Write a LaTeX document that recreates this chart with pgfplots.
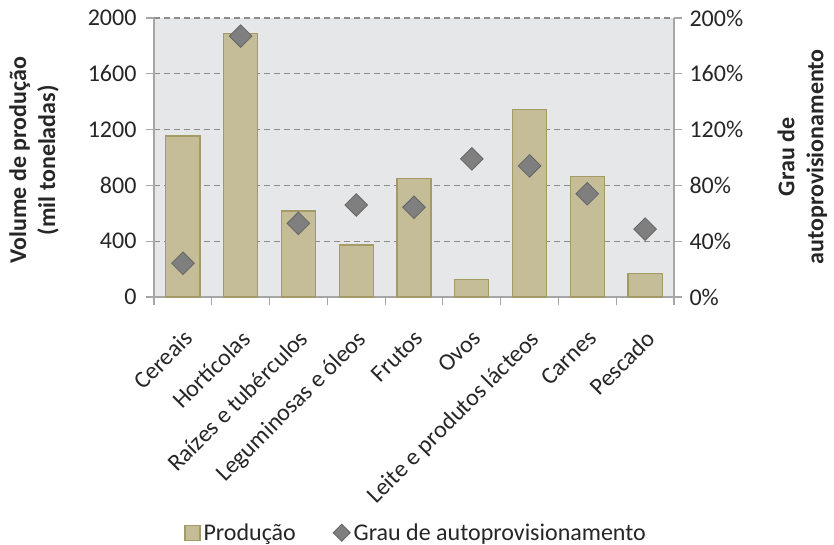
\documentclass[border=0pt]{standalone}
\usepackage{fontspec}
\setmainfont{Carlito}
\usepackage{pgfplots}
\pgfplotsset{compat=1.18}

\definecolor{barfill}{HTML}{C4BD97}
\definecolor{baredge}{HTML}{A39A66}
\definecolor{plotbg}{HTML}{E6E7E8}
\definecolor{dia}{HTML}{7F7F7F}
\definecolor{diaedge}{HTML}{666666}
\definecolor{axisgray}{HTML}{A6A6A6}
\definecolor{gridgray}{HTML}{8C8C8C}
\definecolor{txt}{HTML}{262626}

\pgfplotsset{
  common/.style={
    scale only axis,
    width=520bp, height=279bp,
    at={(0,0)}, anchor=south west,
    xmin=-0.5, xmax=8.5,
    ymin=0,
    tick align=outside,
    major tick length=8bp,
    every tick/.style={axisgray, line width=1.2bp},
    axis line style={axisgray, line width=1.4bp},
    /pgf/number format/assume math mode=true,
    /pgf/number format/1000 sep={},
    tick label style={text=txt},
    label style={text=txt},
  }
}

\begin{document}
\begin{tikzpicture}[font=\fontsize{24bp}{29bp}\selectfont]
\begin{axis}[
  common,
  ymax=2000,
  axis y line*=left,
  axis x line*=bottom,
  axis background/.style={fill=plotbg},
  ytick={0,400,...,2000},
  ymajorgrids,
  major grid style={gridgray, line width=1.1bp, dash pattern=on 6bp off 4bp},
  xtick={0,...,8},
  xticklabels={Cereais,Hortícolas,Raízes e tubérculos,Leguminosas e óleos,Frutos,Ovos,Leite e produtos lácteos,Carnes,Pescado},
  major x tick style={draw=none},
  minor xtick={-0.5,0.5,...,8.5},
  minor x tick style={axisgray, line width=1.2bp},
  minor tick length=8bp,
  % shifts act in the rotated frame
  x tick label style={rotate=45, anchor=north east, inner sep=2bp, xshift=-15bp, yshift=-14bp},
  yticklabel style={xshift=-6bp},
  ylabel={Volume de produção\\(mil toneladas)},
  ylabel style={at={(axis description cs:-0.2308,0.49)}, anchor=center, align=center, font=\fontsize{24bp}{29bp}\selectfont\bfseries},
]
\addplot[ybar, bar width=0.59, fill=barfill, draw=baredge, line width=1.3bp]
  coordinates {(0,1154) (1,1890) (2,616) (3,373) (4,848) (5,127) (6,1343) (7,865) (8,170)};
\end{axis}
\begin{axis}[
  common,
  ymax=200,
  axis y line*=right,
  axis x line=none,
  ytick={0,40,...,200},
  yticklabel={\pgfmathprintnumber{\tick}\%},
  yticklabel style={xshift=4bp},
  ylabel={Grau de\\autoprovisionamento},
  ylabel style={at={(axis description cs:1.247,0.502)}, anchor=center, align=center, rotate=0, font=\fontsize{24bp}{29bp}\selectfont\bfseries},
  legend columns=2,
  legend style={draw=none, fill=none, text=txt,
    at={(axis description cs:0.505,-0.845)}, anchor=center,
    /tikz/every even column/.append style={column sep=34bp},
    nodes={inner sep=3bp}},
]
\addlegendimage{legend image code/.code={
  \draw[fill=barfill, draw=baredge, line width=1.2bp] (6bp,-7.5bp) rectangle (21bp,7.5bp);}}
\addlegendentry{Produção}
\addlegendimage{legend image code/.code={
  \draw[fill=dia, draw=diaedge, line width=0.8bp] (21bp,0) -- (12.5bp,8.5bp) -- (4bp,0) -- (12.5bp,-8.5bp) -- cycle;}}
\addlegendentry{Grau de autoprovisionamento}
\addplot[only marks, mark=square*, mark size=8bp,
  mark options={rotate=45, fill=dia, draw=diaedge, line width=0.8bp}, forget plot]
  coordinates {(0,24.2) (1,187) (2,52.8) (3,66) (4,64.3) (5,99) (6,94) (7,74) (8,48.7)};
\end{axis}
\pgfresetboundingbox
\useasboundingbox (-154bp,-248bp) rectangle (680bp,297bp);
\end{tikzpicture}
\end{document}
